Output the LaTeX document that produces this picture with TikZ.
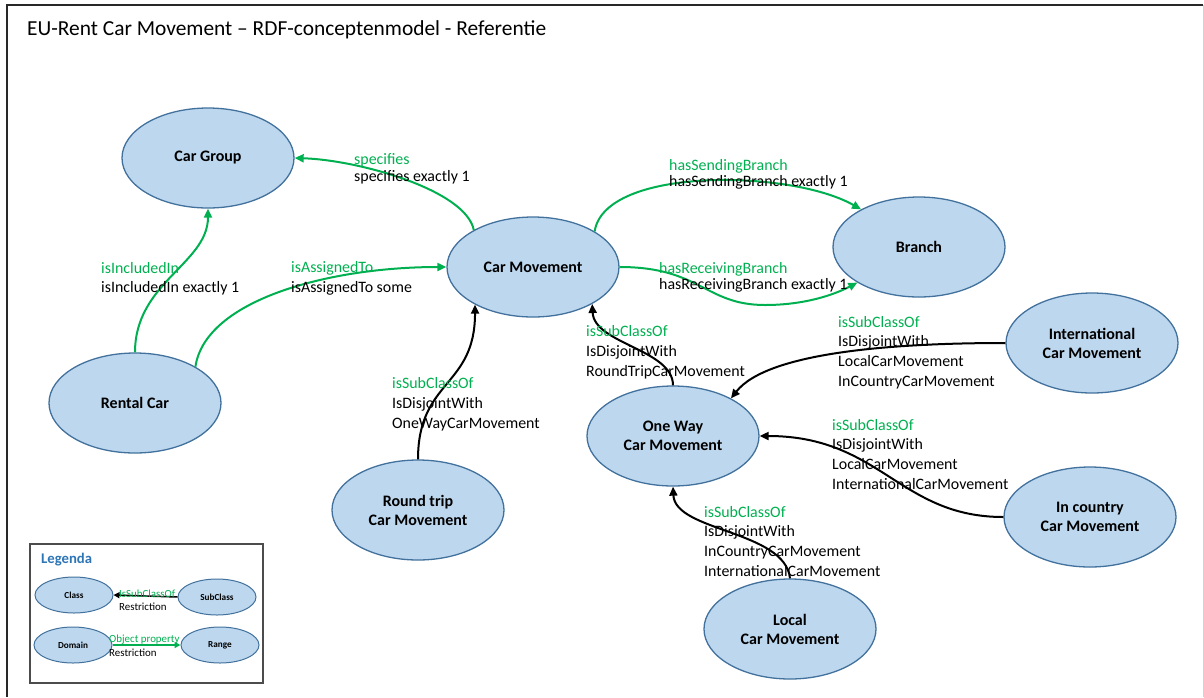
\documentclass[tikz,border=0pt]{standalone}
\usepackage{fontspec}
\setmainfont{Carlito}
\usetikzlibrary{shapes.geometric,arrows.meta}
\definecolor{classfill}{RGB}{189,215,238}
\definecolor{classline}{RGB}{65,113,156}
\definecolor{relgreen}{RGB}{0,176,80}
\definecolor{legendblue}{RGB}{46,117,182}
\definecolor{framegray}{RGB}{40,40,40}

\begin{document}
\begin{tikzpicture}[x=1pt,y=-1pt,
  cls/.style={ellipse, draw=classline, fill=classfill, line width=1.3pt,
    minimum width=172pt, minimum height=100pt, inner sep=0pt, align=center,
    font=\fontsize{16}{19}\selectfont\bfseries},
  lcls/.style={ellipse, draw=classline, fill=classfill, line width=1pt,
    minimum width=78pt, minimum height=36pt, inner sep=0pt,
    font=\fontsize{9.2}{11}\selectfont\bfseries},
  prop/.style={draw=relgreen, line width=2pt, -{Triangle[length=9pt,width=8pt]}},
  sub/.style={draw=black, line width=2pt, -{Triangle[length=9pt,width=8pt]}},
  % multi-line labels: the base anchor sits on the last line
  lbl/.style={anchor=base west, inner sep=0pt, align=left,
    font=\fontsize{15.9}{19.6}\selectfont},
  leglbl/.style={anchor=base west, inner sep=0pt, font=\fontsize{10.9}{13}\selectfont},
]
\useasboundingbox (0,0) rectangle (1204,697);

% frame
\draw[framegray, line width=2pt] (1203,5) -- (7,5) -- (7,697);
\draw[gray!35, line width=1pt] (1203,5) -- (1203,697);

% title
\node[anchor=base west, inner sep=0pt, font=\fontsize{21.4}{25}\selectfont] (title) at (27,35)
  {EU-Rent Car Movement – RDF-conceptenmodel - Referentie};

% classes
\node[cls] (cg)  at (208,158) {Car Group};
\node[cls] (rc)  at (135,403) {Rental Car};
\node[cls] (cm)  at (533,267) {Car Movement};
\node[cls] (br)  at (919,247) {Branch};
\node[cls] (int) at (1092,343) {International\\Car Movement};
\node[cls] (ic)  at (1090,517) {In country\\Car Movement};
\node[cls] (ow)  at (673,436) {One Way\\Car Movement};
\node[cls] (rt)  at (418,510) {Round trip\\Car Movement};
\node[cls] (lc)  at (790,629) {Local\\Car Movement};

% object properties
\draw[prop] (rc.north) .. controls +(0,-70) and +(0,55) .. (cg.south);
\draw[prop] (rc.31) .. controls +(10,-67) and +(-117,0) .. (cm.west);
\draw[prop] (cm.148) .. controls +(-8,-40) and +(64,2) .. (cg.east);
\draw[prop] (cm.30) .. controls +(10,-65) and +(-70,-40) .. (br.147);
\draw[prop] (cm.east) .. controls +(81,0) and +(-60,0) .. (765,305)
                      .. controls +(40,0) and +(-23,12) .. (br.210);

% subclass relations
\draw[sub] (rt.north) .. controls +(0,-80) and +(0,83) .. (cm.213.7);
\draw[sub] (ow.north) .. controls +(0,-36) and +(2,40) .. (cm.328.5);
\draw[sub] (int.west) .. controls +(-107,0) and +(37,-47) .. (ow.33);
\draw[sub] (ic.west) .. controls +(-104,0) and +(121,0) .. (ow.east);
\draw[sub] (lc.north) .. controls +(-5,-48) and +(2,45) .. (ow.south);

% property labels
\node[lbl, font=\fontsize{15.9}{16.7}\selectfont] (l-spec) at (354,181)
  {\textcolor{relgreen}{specifies}\\specifies exactly 1};
\node[lbl, font=\fontsize{15.9}{16.5}\selectfont] (l-send) at (669,186.5)
  {\textcolor{relgreen}{hasSendingBranch}\\hasSendingBranch exactly 1};
\node[lbl, font=\fontsize{15.9}{16.5}\selectfont] (l-recv) at (659,289.5)
  {\textcolor{relgreen}{hasReceivingBranch}\\hasReceivingBranch exactly 1};
\node[lbl, font=\fontsize{15.9}{19}\selectfont] (l-incl) at (101,292)
  {\textcolor{relgreen}{isIncludedIn}\\isIncludedIn exactly 1};
\node[lbl, font=\fontsize{15.9}{20}\selectfont] (l-assg) at (291,292)
  {\textcolor{relgreen}{isAssignedTo}\\isAssignedTo some};

% subclass labels
\node[lbl] (l-rt) at (392,428)
  {\textcolor{relgreen}{isSubClassOf}\\IsDisjointWith\\OneWayCarMovement};
\node[lbl] (l-ow) at (586,376)
  {\textcolor{relgreen}{isSubClassOf}\\IsDisjointWith\\RoundTripCarMovement};
\node[lbl] (l-int) at (838,386)
  {\textcolor{relgreen}{isSubClassOf}\\IsDisjointWith\\LocalCarMovement\\InCountryCarMovement};
\node[lbl] (l-ic) at (832,489)
  {\textcolor{relgreen}{isSubClassOf}\\IsDisjointWith\\LocalCarMovement\\InternationalCarMovement};
\node[lbl] (l-lc) at (704,576)
  {\textcolor{relgreen}{isSubClassOf}\\IsDisjointWith\\InCountryCarMovement\\InternationalCarMovement};

% legend
\draw[gray!60!black, line width=1.5pt] (30,544) rectangle (263,683);
\node[anchor=base west, inner sep=0pt, text=legendblue,
      font=\fontsize{14.7}{17}\selectfont\bfseries] (leg) at (41,563) {Legenda};
\node[lcls] (lcl) at (74,595) {Class};
\node[lcls] (lsc) at (217,597) {SubClass};
\node[lcls] (ldm) at (73,645) {Domain};
\node[lcls] (lrg) at (220,645) {Range};
\draw[black, line width=1.5pt, -{Triangle[length=6pt,width=6pt]}] (lsc.west) -- (lcl.east);
\draw[relgreen, line width=1.5pt, -{Triangle[length=6pt,width=6pt]}] (ldm.east) -- (lrg.west);
\node[leglbl, text=relgreen] (ll1) at (119,597) {IsSubClassOf};
\node[leglbl] (ll2) at (119,610) {Restriction};
\node[leglbl, text=relgreen] (ll3) at (109,642) {Object property};
\node[leglbl] (ll4) at (109,656) {Restriction};
\end{tikzpicture}
\end{document}
